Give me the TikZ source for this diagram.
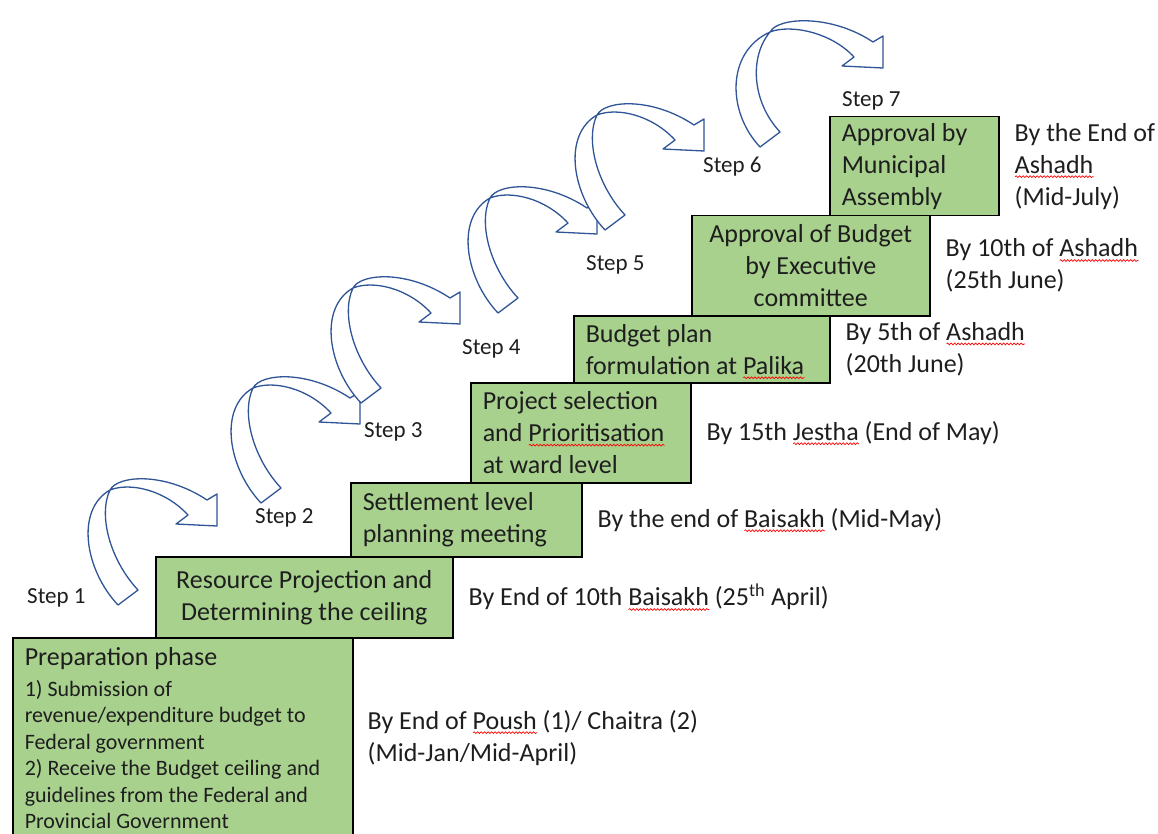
\documentclass[tikz,border=0pt]{standalone}
\usepackage{fontspec}
\setmainfont{Carlito}
\usepackage{tikz}
\usetikzlibrary{positioning,decorations.pathmorphing}

\definecolor{stepgreen}{RGB}{169,209,142}
\definecolor{curveblue}{RGB}{47,85,151}
\definecolor{textgray}{RGB}{30,30,30}

\newcommand\boxfont{\fontsize{26}{32}\selectfont}
\newcommand\smallboxfont{\fontsize{22}{26.4}\selectfont}
\newcommand\stepfont{\fontsize{23}{28}\selectfont}

% red wavy underline under a word
\newsavebox\wavebox
\newlength\wavelen
\newcommand\spellwave[1]{%
  \sbox\wavebox{#1}\setlength\wavelen{\wd\wavebox}%
  \rlap{\smash{\tikz[baseline=0pt,reset cm]\draw[red,line width=0.7pt,decorate,decoration={snake,amplitude=0.9pt,segment length=3.5pt}] (0pt,-3.5pt) -- (\wavelen,-3.5pt);}}%
  \usebox\wavebox}

% #1 crossing point, #2 shift of the tail, #3 shift of the head
\newcommand\bentarrow[3]{%
  \draw[bentband,shift={#1}] (8+#2,115) .. controls (-25+#2,80) and (-35+#2/2,20) .. (0,0)
    .. controls (20,-8) and (55+#3,0) .. (78+#3,25) -- (66+#3,34) -- (107+#3,36) -- (107+#3,4) -- (97+#3,10)
    .. controls (55+#3,-18) and (8,-15) .. (0,0)
    .. controls (-12+#2/2,25) and (0+#2,70) .. (28+#2,100) -- cycle;}

\begin{document}
\begin{tikzpicture}[x=1pt,y=-1pt,
    stepbox/.style={draw=black,fill=stepgreen,line width=1.5pt,anchor=north west,inner xsep=12pt,inner ysep=0pt,font=\boxfont,text=textgray},
    datetext/.style={anchor=west,align=flush left,inner sep=0pt,font=\boxfont,text=textgray},
    steplabel/.style={anchor=west,inner sep=0pt,font=\stepfont,text=textgray},
    bentband/.style={draw=curveblue,fill=white,line width=1.3pt,line join=round}]
    \useasboundingbox (0,0) rectangle (1158,834);
    \clip (0,0) rectangle (1158,834);

    % curved arrows between the steps
    \bentarrow{(110,490)}{0}{0}
    \bentarrow{(253,388)}{0}{0}
    \bentarrow{(353,288)}{0}{0}
    \bentarrow{(490,198)}{0}{0}
    \bentarrow{(597,115)}{0}{0}
    \bentarrow{(770,32)}{-18}{6}

    % staircase of boxes
    \node[stepbox,minimum width=340pt,minimum height=200pt,text width=316pt,align=flush left] (b1) at (12,637)
        {Preparation phase\par\vspace{5pt}\smallboxfont 1) Submission of\\revenue/expenditure budget to\\Federal government\\2) Receive the Budget ceiling and\\guidelines from the Federal and\\Provincial Government\par};
    \node[stepbox,minimum width=297pt,minimum height=81pt,text width=273pt,align=flush center] (b2) at (155,556)
        {Resource Projection and\\Determining the ceiling};
    \node[stepbox,minimum width=231pt,minimum height=74pt,text width=207pt,align=flush left] (b3) at (350,482)
        {Settlement level\\planning meeting};
    \node[stepbox,minimum width=220pt,minimum height=100pt,text width=196pt,align=flush left] (b4) at (470,382)
        {Project selection\\and \spellwave{Prioritisation}\\at ward level};
    \node[stepbox,minimum width=256pt,minimum height=67pt,text width=232pt,align=flush left] (b5) at (573,315)
        {Budget plan\\formulation at \spellwave{Palika}};
    \node[stepbox,minimum width=238pt,minimum height=100pt,text width=214pt,align=flush center] (b6) at (691,215)
        {Approval of Budget\\by Executive\\committee};
    \node[stepbox,minimum width=169pt,minimum height=99pt,text width=145pt,align=flush left] (b7) at (829,116)
        {Approval by\\Municipal\\Assembly};

    % deadlines
    \node[datetext,right=14pt of b1] (d1) {By End of \spellwave{Poush} (1)/ Chaitra (2)\\(Mid-Jan/Mid-April)};
    \node[datetext,right=15pt of b2] (d2) {By End of 10th \spellwave{Baisakh} (25\textsuperscript{th} April)};
    \node[datetext,right=15pt of b3] (d3) {By the end of \spellwave{Baisakh} (Mid-May)};
    \node[datetext,right=15pt of b4] (d4) {By 15th \spellwave{Jestha} (End of May)};
    \node[datetext,right=15pt of b5] (d5) {By 5th of \spellwave{Ashadh}\\(20th June)};
    \node[datetext,right=15pt of b6] (d6) {By 10th of \spellwave{Ashadh}\\(25th June)};
    \node[datetext,right=15pt of b7] (d7) {By the End of\\\spellwave{Ashadh}\\(Mid-July)};

    % step labels
    \node[steplabel] (s1) at (27,598) {Step 1};
    \node[steplabel] (s2) at (255,518) {Step 2};
    \node[steplabel] (s3) at (364,432) {Step 3};
    \node[steplabel] (s4) at (462,349) {Step 4};
    \node[steplabel] (s5) at (586,265) {Step 5};
    \node[steplabel] (s6) at (703,167) {Step 6};
    \node[steplabel] (s7) at (842,101) {Step 7};
\end{tikzpicture}
\end{document}
